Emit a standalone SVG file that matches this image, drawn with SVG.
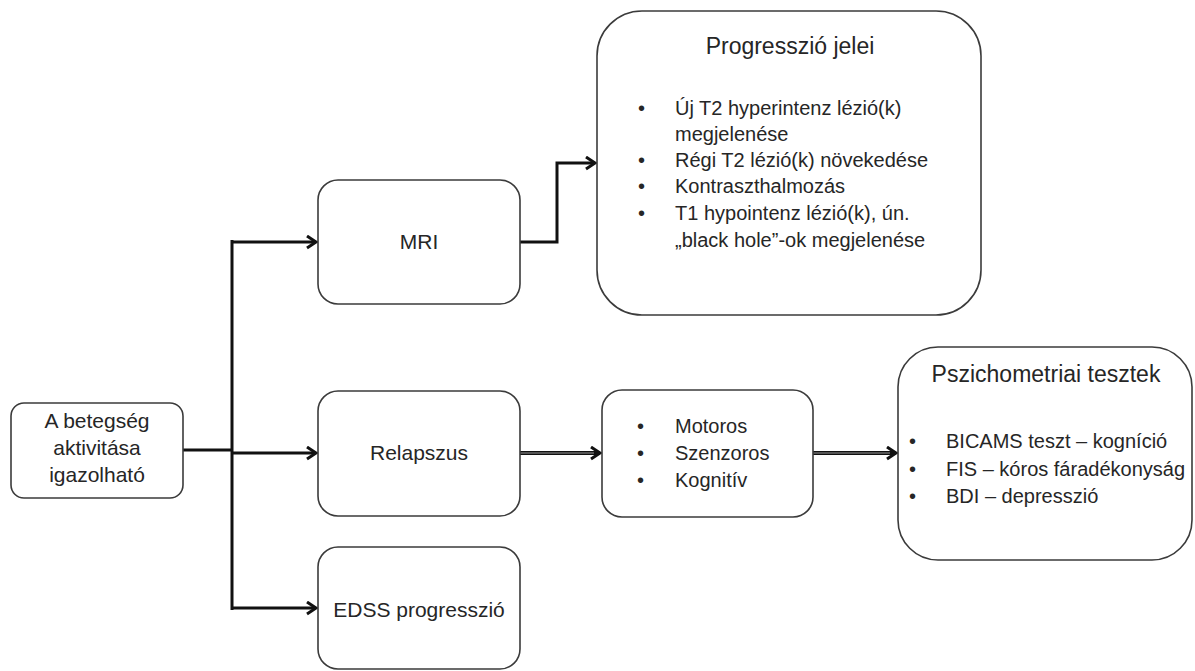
<svg xmlns="http://www.w3.org/2000/svg" width="1195" height="671" viewBox="0 0 1195 671">
<style>
.box{fill:#fff;stroke:#3b3b3b;stroke-width:1.6}
.t{font-family:"Liberation Sans",Arial,sans-serif;fill:#262626}
.lbl{font-size:21px;text-anchor:middle}
.ttl{font-size:23px;text-anchor:middle}
.li{font-size:20px}
.c{fill:none;stroke:#111;stroke-width:3;stroke-linejoin:miter}
.cd{fill:none;stroke:#111;stroke-width:4}
.ci{fill:none;stroke:#9a9a9a;stroke-width:1}
</style>
<defs>
<marker id="ah" markerUnits="userSpaceOnUse" markerWidth="16" markerHeight="16" refX="11" refY="7" orient="auto">
<path d="M2,1 L11,7 L2,13" fill="none" stroke="#111" stroke-width="3"/>
</marker>
</defs>
<rect width="1195" height="671" fill="#fff"/>
<g id="connectors">
<path class="c" d="M183,450 H232"/>
<path class="c" d="M232,240 V610"/>
<path class="c" d="M232,242 H316" marker-end="url(#ah)"/>
<path class="c" d="M232,453 H316" marker-end="url(#ah)"/>
<path class="c" d="M232,608 H316" marker-end="url(#ah)"/>
<path class="c" d="M520,242 H557 V163 H595" marker-end="url(#ah)"/>
<path class="cd" d="M520,453 H600" marker-end="url(#ah)"/>
<path class="ci" d="M520,453 H594"/>
<path class="cd" d="M813,453 H896" marker-end="url(#ah)"/>
<path class="ci" d="M813,453 H890"/>
</g>
<g id="node-aktivitas">
<rect class="box" x="11" y="403" width="172" height="95" rx="13"/>
<text class="t lbl" x="97" y="428">A betegség</text>
<text class="t lbl" x="97" y="455">aktivitása</text>
<text class="t lbl" x="97" y="482">igazolható</text>
</g>
<g id="node-mri">
<rect class="box" x="318" y="180" width="202" height="124" rx="20"/>
<text class="t lbl" x="419" y="249">MRI</text>
</g>
<g id="node-relapszus">
<rect class="box" x="318" y="391" width="202" height="125" rx="20"/>
<text class="t lbl" x="419" y="460">Relapszus</text>
</g>
<g id="node-edss">
<rect class="box" x="318" y="547" width="202" height="122" rx="20"/>
<text class="t lbl" x="419" y="617">EDSS progresszió</text>
</g>
<g id="node-progresszio">
<rect class="box" x="597" y="11" width="384" height="304" rx="45"/>
<text class="t ttl" x="790" y="54">Progresszió jelei</text>
<g class="t li">
<text x="638" y="115">•</text><text x="675" y="115">Új T2 hyperintenz lézió(k)</text>
<text x="675" y="141">megjelenése</text>
<text x="638" y="167">•</text><text x="675" y="167">Régi T2 lézió(k) növekedése</text>
<text x="638" y="193">•</text><text x="675" y="193">Kontraszthalmozás</text>
<text x="638" y="220">•</text><text x="675" y="220">T1 hypointenz lézió(k), ún.</text>
<text x="675" y="247">„black hole”-ok megjelenése</text>
</g>
</g>
<g id="node-tunetek">
<rect class="box" x="602" y="390" width="211" height="127" rx="20"/>
<g class="t li">
<text x="637" y="433">•</text><text x="675" y="433">Motoros</text>
<text x="637" y="460">•</text><text x="675" y="460">Szenzoros</text>
<text x="637" y="487">•</text><text x="675" y="487">Kognitív</text>
</g>
</g>
<g id="node-pszichometria">
<rect class="box" x="898" y="347" width="294" height="213" rx="40"/>
<text class="t ttl" x="1046" y="382">Pszichometriai tesztek</text>
<g class="t li">
<text x="909" y="448">•</text><text x="946" y="448">BICAMS teszt – kogníció</text>
<text x="909" y="476">•</text><text x="946" y="476">FIS – kóros fáradékonyság</text>
<text x="909" y="503">•</text><text x="946" y="503">BDI – depresszió</text>
</g>
</g>
</svg>
